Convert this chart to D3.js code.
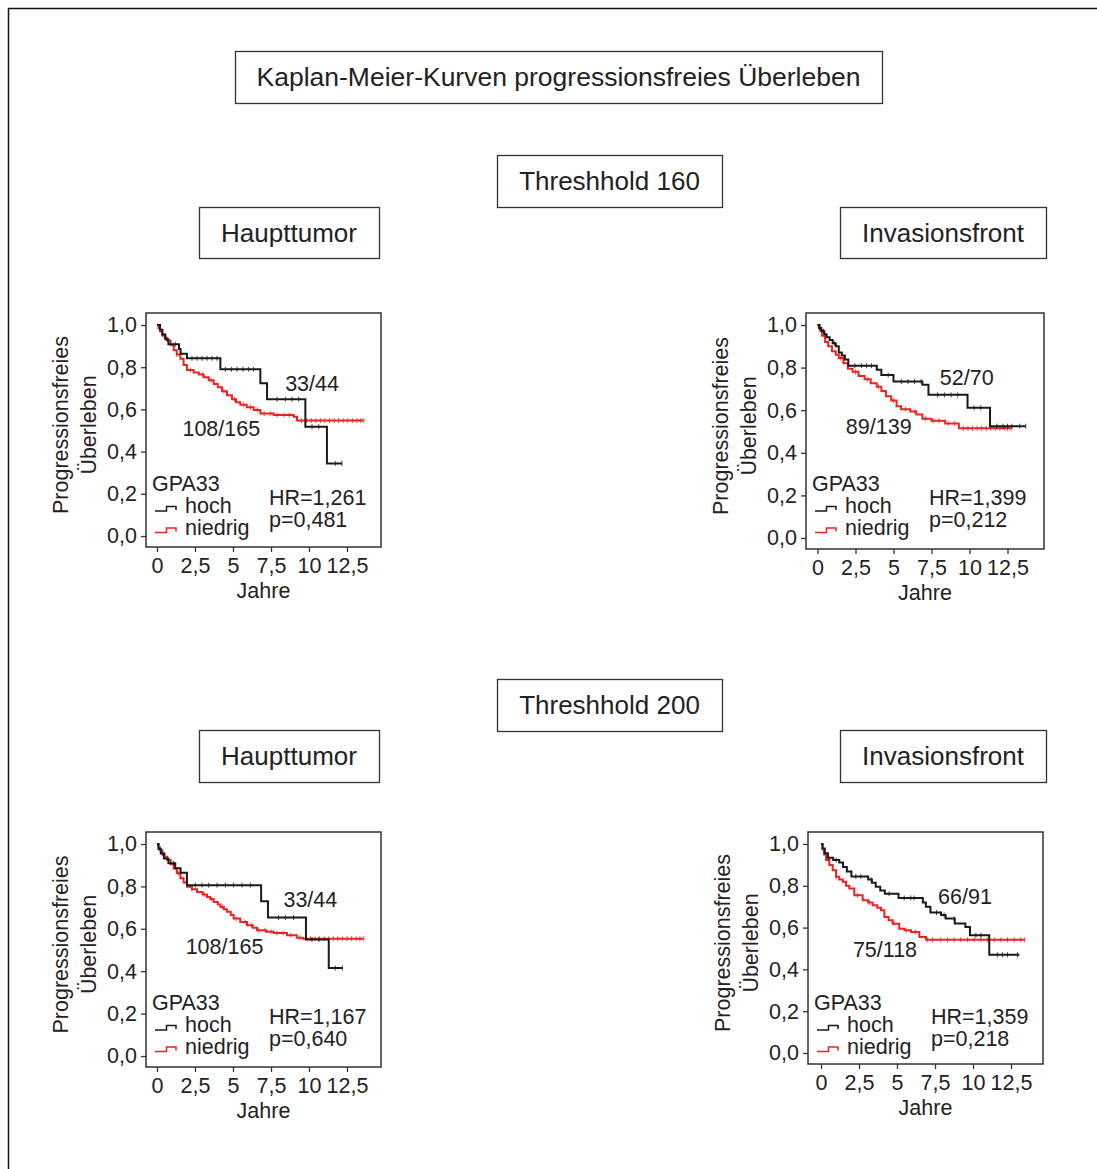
<!DOCTYPE html>
<html>
<head>
<meta charset="utf-8">
<script src="https://cdn.jsdelivr.net/npm/d3@7"></script>
<style>
  body { margin: 0; background: #fff; }
  text { font-family: "Liberation Sans", Arial, sans-serif; fill: #222; }
</style>
</head>
<body>
<div id="chart"></div>
<script>
// ticks
const yTicks = [0, 0.2, 0.4, 0.6, 0.8, 1.0];
const xTicks = [0, 2.5, 5, 7.5, 10, 12.5];

// header texts
const mainTitle = "Kaplan-Meier-Kurven progressionsfreies Überleben";
const thresholdTitles = ["Threshhold 160", "Threshhold 200"];
const regionTitles = ["Haupttumor", "Invasionsfront"];

const yLabelLines = ["Progressionsfreies", "Überleben"];
const xLabel = "Jahre";
const legendTitle = "GPA33";
const groupNames = ["hoch", "niedrig"];

// per panel: Threshhold 160 HT, 160 IF, 200 HT, 200 IF
const countsHoch = ["33/44", "52/70", "33/44", "66/91"];
const countsNiedrig = ["108/165", "89/139", "108/165", "75/118"];
const hrLabels = ["HR=1,261", "HR=1,399", "HR=1,167", "HR=1,359"];
const pLabels = ["p=0,481", "p=0,212", "p=0,640", "p=0,218"];

// KM steps [jahre, überleben]; last point = end of follow-up
const hoch160HT = [[0,1],[0.2,0.977],[0.35,0.955],[0.55,0.932],[0.75,0.909],[1.45,0.886],[1.55,0.864],[1.97,0.842],[4.17,0.79],[6.8,0.724],[7.24,0.648],[9.76,0.518],[11.18,0.344],[12.17,0.344]];
const niedrig160HT = [[0,1],[0.1,0.985],[0.2,0.97],[0.35,0.955],[0.5,0.94],[0.66,0.925],[0.9,0.905],[1.1,0.88],[1.3,0.86],[1.54,0.84],[1.75,0.81],[1.97,0.787],[2.41,0.775],[2.75,0.765],[3.07,0.752],[3.4,0.738],[3.73,0.72],[4.0,0.705],[4.28,0.686],[4.6,0.667],[4.93,0.648],[5.2,0.634],[5.48,0.622],[5.9,0.61],[6.36,0.597],[6.8,0.58],[7.68,0.573],[8.99,0.565],[9.21,0.547],[13.6,0.547]];
const hoch160IF = [[0,1],[0.1,0.986],[0.25,0.971],[0.45,0.957],[0.6,0.943],[0.8,0.929],[1.0,0.914],[1.2,0.9],[1.4,0.871],[1.6,0.857],[1.8,0.838],[2.03,0.809],[3.9,0.79],[4.2,0.765],[5.0,0.735],[6.9,0.72],[7.3,0.672],[9.87,0.611],[11.35,0.525],[13.7,0.525]];
const niedrig160IF = [[0,1],[0.15,0.975],[0.3,0.95],[0.5,0.92],[0.7,0.9],[0.95,0.877],[1.2,0.86],[1.4,0.845],[1.7,0.82],[2.0,0.795],[2.3,0.78],[2.7,0.76],[3.1,0.745],[3.5,0.727],[3.9,0.71],[4.2,0.69],[4.5,0.665],[4.85,0.645],[5.2,0.618],[5.5,0.605],[6.1,0.594],[6.5,0.58],[6.9,0.56],[7.5,0.55],[8.4,0.538],[9.3,0.515],[12.75,0.515]];
const hoch200HT = [[0,1],[0.1,0.977],[0.25,0.955],[0.45,0.932],[0.75,0.909],[1.2,0.886],[1.55,0.864],[1.97,0.806],[6.85,0.73],[7.3,0.653],[9.8,0.55],[11.3,0.415],[12.2,0.415]];
const niedrig200HT = [[0,1],[0.1,0.985],[0.2,0.97],[0.35,0.955],[0.5,0.94],[0.66,0.924],[0.9,0.905],[1.1,0.885],[1.3,0.862],[1.54,0.838],[1.75,0.818],[1.97,0.798],[2.3,0.787],[2.63,0.774],[3.0,0.762],[3.29,0.75],[3.5,0.74],[3.73,0.727],[4.0,0.715],[4.17,0.703],[4.4,0.692],[4.6,0.68],[4.85,0.665],[5.04,0.648],[5.48,0.632],[5.92,0.617],[6.3,0.605],[6.58,0.593],[7.2,0.586],[7.68,0.58],[8.55,0.57],[9.2,0.558],[9.6,0.553],[13.6,0.553]];
const hoch200IF = [[0,1],[0.1,0.978],[0.25,0.956],[0.45,0.934],[0.8,0.923],[1.2,0.912],[1.45,0.89],[1.7,0.868],[2.0,0.845],[3.1,0.83],[3.35,0.815],[3.6,0.795],[3.9,0.778],[4.2,0.762],[5.1,0.742],[6.7,0.72],[6.9,0.7],[7.2,0.672],[7.9,0.66],[8.2,0.643],[8.8,0.62],[9.5,0.603],[9.8,0.563],[11.07,0.47],[13.05,0.47]];
const niedrig200IF = [[0,1],[0.1,0.975],[0.2,0.95],[0.33,0.923],[0.55,0.9],[0.77,0.875],[0.99,0.843],[1.2,0.83],[1.43,0.819],[1.65,0.8],[1.86,0.787],[2.19,0.755],[2.74,0.731],[3.1,0.72],[3.4,0.707],[3.7,0.695],[3.95,0.683],[4.17,0.651],[4.45,0.635],[4.71,0.619],[5.15,0.595],[5.5,0.587],[5.92,0.579],[6.47,0.555],[6.91,0.542],[13.4,0.542]];

// censored times
const hoch160HTcens = [0.35,1.2,2.3,2.63,2.96,3.29,3.62,3.95,4.5,4.89,5.26,5.66,6.03,6.36,7.9,8.44,8.88,9.32,10.2,10.64,11.73,12.17];
const niedrig160HTcens = [1.3,2.2,3.0,3.55,4.4,5.1,5.7,6.15,6.6,7.05,7.45,7.9,8.35,8.7,9.5,9.85,10.15,10.45,10.75,11.05,11.35,11.65,11.95,12.25,12.55,12.85,13.15,13.4,13.6];
const hoch160IFcens = [0.4,1.1,2.46,2.89,3.22,3.55,4.65,5.51,5.95,6.38,6.82,7.9,8.35,8.79,9.22,10.3,10.74,11.8,12.2,12.5,12.8,13.3,13.7];
const niedrig160IFcens = [1.5,2.5,3.3,4.0,5.0,5.8,6.4,7.1,7.6,8.0,8.6,9.0,9.6,9.9,10.2,10.5,10.8,11.1,11.4,11.7,12.0,12.3,12.5,12.75];
const hoch200HTcens = [0.35,1.1,2.52,2.96,3.4,3.95,4.5,5.04,5.59,6.14,8.0,8.44,8.99,10.2,10.64,11.73,12.2];
const niedrig200HTcens = [1.4,2.3,3.1,3.6,4.3,5.2,5.8,6.2,6.7,7.1,7.5,7.9,8.3,8.8,9.4,9.8,10.1,10.4,10.7,11.0,11.3,11.6,11.9,12.2,12.5,12.8,13.1,13.35,13.6];
const hoch200IFcens = [0.5,1.0,2.29,2.62,3.3,4.48,5.47,5.91,6.13,7.6,8.1,8.76,10.19,10.52,11.6,11.94,12.27,12.93];
const niedrig200IFcens = [1.0,2.4,3.2,4.8,5.6,6.2,7.0,7.34,7.88,8.32,8.76,9.2,9.64,10.08,10.52,10.96,11.4,11.84,12.27,12.71,13.15,13.4];

const W = 1097, H = 1169;
const black = "#1a1a1a", red = "#ec2320";

// layout of the four plots (box position in px, label anchors in data units)
const panels = [
  {x: 146, y: 313, w: 235, h: 234, padL: 11, hoch: hoch160HT, niedrig: niedrig160HT, hc: hoch160HTcens, nc: niedrig160HTcens, hPos: [10.2, 0.687], nPos: [4.23, 0.474]},
  {x: 806, y: 313, w: 238, h: 236, padL: 11.5, hoch: hoch160IF, niedrig: niedrig160IF, hc: hoch160IFcens, nc: niedrig160IFcens, hPos: [9.82, 0.716], nPos: [4.03, 0.49]},
  {x: 146, y: 832, w: 235, h: 235, padL: 11, hoch: hoch200HT, niedrig: niedrig200HT, hc: hoch200HTcens, nc: niedrig200HTcens, hPos: [10.09, 0.703], nPos: [4.44, 0.483]},
  {x: 808, y: 832, w: 235, h: 232, padL: 13, hoch: hoch200IF, niedrig: niedrig200IF, hc: hoch200IFcens, nc: niedrig200IFcens, hPos: [9.47, 0.712], nPos: [4.21, 0.461]}
];

const headers = [
  {text: mainTitle, x: 235, y: 51, w: 647, h: 52, fs: 26.5},
  {text: thresholdTitles[0], x: 497, y: 155, w: 225, h: 52, fs: 26},
  {text: regionTitles[0], x: 199, y: 207, w: 180, h: 51, fs: 26},
  {text: regionTitles[1], x: 840, y: 207, w: 206, h: 51, fs: 26},
  {text: thresholdTitles[1], x: 497, y: 679, w: 225, h: 52, fs: 26},
  {text: regionTitles[0], x: 199, y: 730, w: 180, h: 52, fs: 26},
  {text: regionTitles[1], x: 840, y: 730, w: 206, h: 52, fs: 26}
];

const svg = d3.select("#chart").append("svg")
  .attr("width", W)
  .attr("height", H);

svg.append("rect").attr("width", W).attr("height", H).attr("fill", "#fff");

// outer frame (runs off the page on the right and bottom)
svg.append("rect")
  .attr("x", 8.5).attr("y", 8.5)
  .attr("width", W + 20).attr("height", H + 20)
  .attr("fill", "none").attr("stroke", "#111").attr("stroke-width", 1.5);

const hg = svg.selectAll("g.header")
  .data(headers)
  .join("g")
    .attr("class", "header");

hg.append("rect")
  .attr("x", d => d.x + 0.5).attr("y", d => d.y + 0.5)
  .attr("width", d => d.w).attr("height", d => d.h)
  .attr("fill", "#fff").attr("stroke", "#333").attr("stroke-width", 1.3);

hg.append("text")
  .attr("x", d => d.x + d.w / 2)
  .attr("y", d => d.y + d.h / 2)
  .attr("dy", "0.35em")
  .attr("text-anchor", "middle")
  .attr("font-size", d => d.fs)
  .text(d => d.text);

const fmtY = d => d3.format(".1f")(d).replace(".", ",");
const fmtX = d => String(d).replace(".", ",");
const fs = 21.5;

function stepValue(steps, t) {
  let s = steps[0][1];
  for (const p of steps) if (p[0] <= t) s = p[1];
  return s;
}

panels.forEach((p, i) => {
  const g = svg.append("g");
  const x = d3.scaleLinear().domain([0, 12.5]).range([p.x + p.padL, p.x + p.padL + 190]);
  const y = d3.scaleLinear().domain([0, 1]).range([p.y + p.h - 11, p.y + 12]);

  g.append("rect")
    .attr("x", p.x).attr("y", p.y)
    .attr("width", p.w).attr("height", p.h)
    .attr("fill", "none").attr("stroke", "#333").attr("stroke-width", 1.5);

  const ya = g.append("g")
    .attr("transform", `translate(${p.x},0)`)
    .call(d3.axisLeft(y).tickValues(yTicks).tickSize(5).tickPadding(4).tickFormat(fmtY));
  const xa = g.append("g")
    .attr("transform", `translate(0,${p.y + p.h})`)
    .call(d3.axisBottom(x).tickValues(xTicks).tickSize(5).tickPadding(6).tickFormat(fmtX));
  [ya, xa].forEach(a => {
    a.select(".domain").remove();
    a.selectAll("line").attr("stroke", "#333").attr("stroke-width", 1.3);
    a.selectAll("text").attr("font-size", fs).attr("fill", "#222")
      .style("font-family", '"Liberation Sans", Arial, sans-serif');
  });

  g.append("text")
    .attr("x", p.x + p.w / 2).attr("y", p.y + p.h + 51)
    .attr("text-anchor", "middle").attr("font-size", fs)
    .text(xLabel);

  yLabelLines.forEach((line, k) => {
    g.append("text")
      .attr("transform", `translate(${p.x - 78 + k * 28},${p.y + p.h / 2 - 5}) rotate(-90)`)
      .attr("text-anchor", "middle").attr("font-size", fs)
      .text(line);
  });

  const line = d3.line()
    .x(d => x(d[0]))
    .y(d => y(d[1]))
    .curve(d3.curveStepAfter);

  [[p.niedrig, p.nc, red], [p.hoch, p.hc, black]].forEach(([steps, cens, col]) => {
    g.append("path")
      .attr("d", line(steps))
      .attr("fill", "none").attr("stroke", col).attr("stroke-width", 2);
    g.selectAll(null)
      .data(cens)
      .join("line")
        .attr("x1", d => x(d)).attr("x2", d => x(d))
        .attr("y1", d => y(stepValue(steps, d)) - 2.5)
        .attr("y2", d => y(stepValue(steps, d)) + 2.5)
        .attr("stroke", col).attr("stroke-width", 1).attr("stroke-opacity", 0.8);
  });

  g.append("text")
    .attr("x", x(p.hPos[0])).attr("y", y(p.hPos[1]))
    .attr("text-anchor", "middle").attr("font-size", fs)
    .text(countsHoch[i]);
  g.append("text")
    .attr("x", x(p.nPos[0])).attr("y", y(p.nPos[1]))
    .attr("text-anchor", "middle").attr("font-size", fs)
    .text(countsNiedrig[i]);

  // legend
  g.append("text").attr("x", p.x + 6).attr("y", p.y + 178).attr("font-size", fs).text(legendTitle);
  [black, red].forEach((col, k) => {
    const b = p.y + 200 + k * 21.5;
    g.append("path")
      .attr("d", `M${p.x + 9},${b - 2}H${p.x + 20.5}V${b - 6.5}H${p.x + 30}V${b - 3}`)
      .attr("fill", "none").attr("stroke", col).attr("stroke-width", 1.5);
    g.append("text").attr("x", p.x + 39).attr("y", b).attr("font-size", fs).text(groupNames[k]);
  });

  g.append("text").attr("x", p.x + 123).attr("y", p.y + 192).attr("font-size", fs).text(hrLabels[i]);
  g.append("text").attr("x", p.x + 123).attr("y", p.y + 213.5).attr("font-size", fs).text(pLabels[i]);
});
</script>
</body>
</html>
